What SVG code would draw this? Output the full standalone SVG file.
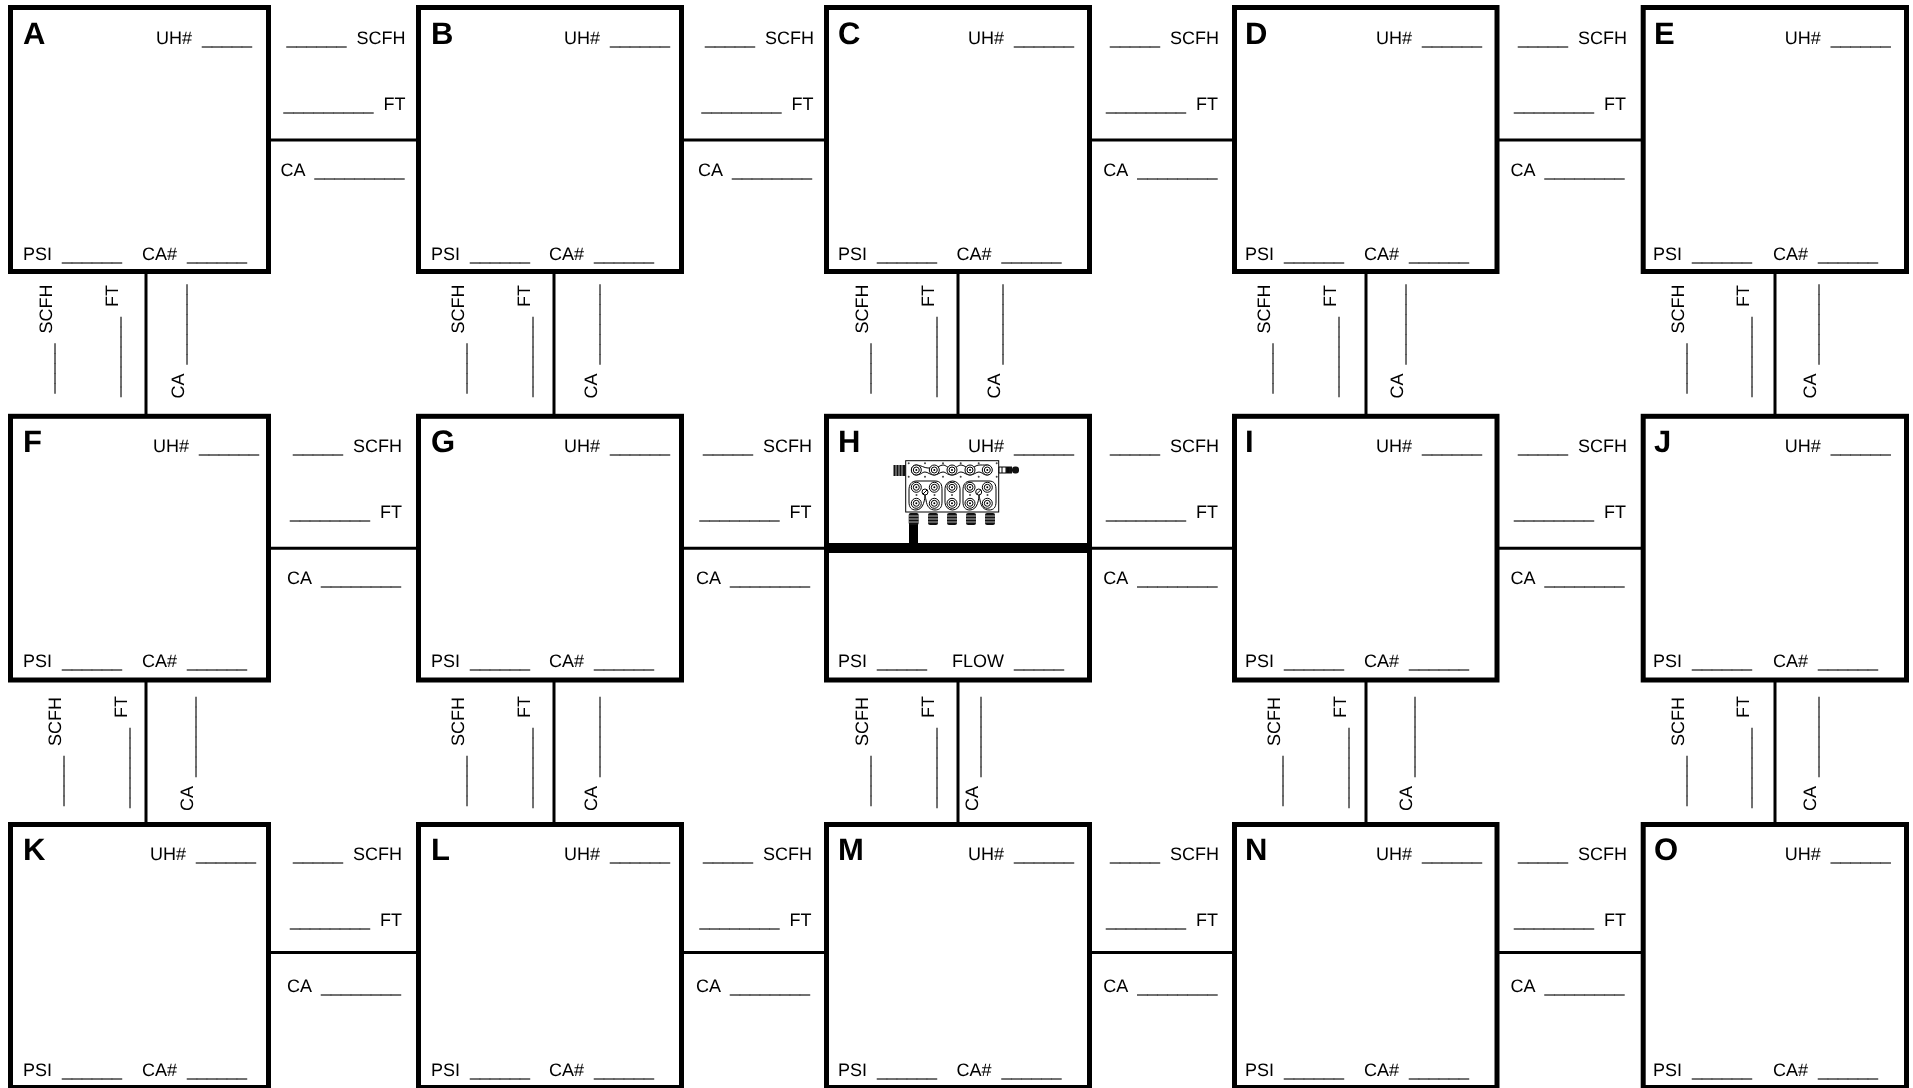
<svg xmlns="http://www.w3.org/2000/svg" width="1913" height="1088" viewBox="0 0 1913 1088">
<style>
text{font-family:"Liberation Sans",Arial,sans-serif;font-size:18px;fill:#000;white-space:pre;text-rendering:geometricPrecision}
svg>g{filter:grayscale(1)}
.l{font-size:31px;font-weight:bold}
.b{fill:#fff;stroke:#000;stroke-width:5}
.c{stroke:#000;stroke-width:3;fill:none}
.m{fill:#fff;stroke:#000;stroke-width:1}
.d{fill:#444}
</style>
<defs>
<g id="port"><circle r="5" class="m"/><circle r="3" class="m"/><circle r="1" fill="#000"/></g>
<g id="gland"><rect x="-5" y="0" width="10" height="12" rx="2" fill="#111"/><path d="M-5 3H5M-5 6H5M-5 9H5" stroke="#ddd" stroke-width=".8"/></g>
</defs>
<rect width="1913" height="1088" fill="#fff"/>
<g id="connectors">
<path class="c" d="M271 140H416M684 140H825M1092 140H1233M1499 140H1641M271 548.300H416M684 548.300H825M1092 548.300H1233M1499 548.300H1641M271 952.500H416M684 952.500H825M1092 952.500H1233M1499 952.500H1641"/>
<path class="c" d="M146 274V414M554 274V414M958 274V414M1366 274V414M1775 274V414M146 682V822M554 682V822M958 682V822M1366 682V822M1775 682V822"/>
<g id="h-labels-row1">
<text x="286.500" y="44">______  SCFH</text><text x="283.500" y="110">_________  FT</text><text x="280.500" y="176">CA  _________</text>
<text x="705" y="44">_____  SCFH</text><text x="701.500" y="110">________  FT</text><text x="698" y="176">CA  ________</text>
<text x="1110" y="44">_____  SCFH</text><text x="1106" y="110">________  FT</text><text x="1103.300" y="176">CA  ________</text>
<text x="1518" y="44">_____  SCFH</text><text x="1514" y="110">________  FT</text><text x="1510.500" y="176">CA  ________</text>
</g>
<g id="h-labels-row2">
<text x="293" y="451.700">_____  SCFH</text><text x="290" y="518">________  FT</text><text x="287" y="584.300">CA  ________</text>
<text x="703" y="451.700">_____  SCFH</text><text x="699.500" y="518">________  FT</text><text x="696" y="584.300">CA  ________</text>
<text x="1110" y="451.700">_____  SCFH</text><text x="1106" y="518">________  FT</text><text x="1103.300" y="584.300">CA  ________</text>
<text x="1518" y="451.700">_____  SCFH</text><text x="1514" y="518">________  FT</text><text x="1510.500" y="584.300">CA  ________</text>
</g>
<g id="h-labels-row3">
<text x="293" y="859.700">_____  SCFH</text><text x="290" y="926">________  FT</text><text x="287" y="991.500">CA  ________</text>
<text x="703" y="859.700">_____  SCFH</text><text x="699.500" y="926">________  FT</text><text x="696" y="991.500">CA  ________</text>
<text x="1110" y="859.700">_____  SCFH</text><text x="1106" y="926">________  FT</text><text x="1103.300" y="991.500">CA  ________</text>
<text x="1518" y="859.700">_____  SCFH</text><text x="1514" y="926">________  FT</text><text x="1510.500" y="991.500">CA  ________</text>
</g>
<g id="v-labels-row1">
<text transform="translate(52 393.500) rotate(-90)">_____  SCFH</text><text transform="translate(118 397) rotate(-90)">________  FT</text><text transform="translate(184 398.500) rotate(-90)">CA  ________</text>
<text transform="translate(464 393.500) rotate(-90)">_____  SCFH</text><text transform="translate(530 397) rotate(-90)">________  FT</text><text transform="translate(596.500 398.500) rotate(-90)">CA  ________</text>
<text transform="translate(868 393.500) rotate(-90)">_____  SCFH</text><text transform="translate(934 397) rotate(-90)">________  FT</text><text transform="translate(1000 398.500) rotate(-90)">CA  ________</text>
<text transform="translate(1270 393.500) rotate(-90)">_____  SCFH</text><text transform="translate(1336 397) rotate(-90)">________  FT</text><text transform="translate(1402.500 398.500) rotate(-90)">CA  ________</text>
<text transform="translate(1683.500 393.500) rotate(-90)">_____  SCFH</text><text transform="translate(1749 397) rotate(-90)">________  FT</text><text transform="translate(1815.500 398.500) rotate(-90)">CA  ________</text>
</g>
<g id="v-labels-row2">
<text transform="translate(61 806) rotate(-90)">_____  SCFH</text><text transform="translate(127 808) rotate(-90)">________  FT</text><text transform="translate(193 811) rotate(-90)">CA  ________</text>
<text transform="translate(464 806) rotate(-90)">_____  SCFH</text><text transform="translate(530 808) rotate(-90)">________  FT</text><text transform="translate(596.500 811) rotate(-90)">CA  ________</text>
<text transform="translate(867.500 806) rotate(-90)">_____  SCFH</text><text transform="translate(933.500 808) rotate(-90)">________  FT</text><text transform="translate(977.500 811) rotate(-90)">CA  ________</text>
<text transform="translate(1280 806) rotate(-90)">_____  SCFH</text><text transform="translate(1346 808) rotate(-90)">________  FT</text><text transform="translate(1412 811) rotate(-90)">CA  ________</text>
<text transform="translate(1683.500 806) rotate(-90)">_____  SCFH</text><text transform="translate(1749 808) rotate(-90)">________  FT</text><text transform="translate(1815.500 811) rotate(-90)">CA  ________</text>
</g>
</g>
<g id="node-A"><rect class="b" x="10.500" y="7.500" width="258" height="264"/><text class="l" x="23" y="44">A</text><text x="156" y="44">UH#  _____</text><text x="23" y="260">PSI  ______</text><text x="142" y="260">CA#  ______</text></g>
<g id="node-B"><rect class="b" x="418.500" y="7.500" width="263" height="264"/><text class="l" x="431" y="44">B</text><text x="564" y="44">UH#  ______</text><text x="431" y="260">PSI  ______</text><text x="549" y="260">CA#  ______</text></g>
<g id="node-C"><rect class="b" x="826.500" y="7.500" width="263" height="264"/><text class="l" x="838" y="44">C</text><text x="968" y="44">UH#  ______</text><text x="838" y="260">PSI  ______</text><text x="956.500" y="260">CA#  ______</text></g>
<g id="node-D"><rect class="b" x="1234.500" y="7.500" width="262.500" height="264"/><text class="l" x="1245" y="44">D</text><text x="1376" y="44">UH#  ______</text><text x="1245" y="260">PSI  ______</text><text x="1364" y="260">CA#  ______</text></g>
<g id="node-E"><rect class="b" x="1643.200" y="7.500" width="263.300" height="264"/><text class="l" x="1654" y="44">E</text><text x="1784.700" y="44">UH#  ______</text><text x="1653" y="260">PSI  ______</text><text x="1773" y="260">CA#  ______</text></g>
<g id="node-F"><rect class="b" x="10.500" y="416.300" width="258" height="263.700"/><text class="l" x="23" y="451.700">F</text><text x="153" y="451.700">UH#  ______</text><text x="23" y="667">PSI  ______</text><text x="142" y="667">CA#  ______</text></g>
<g id="node-G"><rect class="b" x="418.500" y="416.300" width="263" height="263.700"/><text class="l" x="431" y="451.700">G</text><text x="564" y="451.700">UH#  ______</text><text x="431" y="667">PSI  ______</text><text x="549" y="667">CA#  ______</text></g>
<g id="node-H"><rect class="b" x="826.500" y="416.300" width="263" height="263.700"/><text class="l" x="838" y="451.700">H</text><text x="968" y="451.700">UH#  ______</text><text x="838" y="667">PSI  _____</text><text x="952" y="667">FLOW  _____</text>
<path d="M827 548H1090" stroke="#000" stroke-width="10"/><path d="M913.500 520V545" stroke="#000" stroke-width="9"/>
<g id="manifold">
<rect class="m" x="905.700" y="460.700" width="93" height="51.300"/>
<path class="m" d="M916 465C921 465 924 468 928 468H934C938 468 940 465 943 465 946 465 947 468 952 468 957 468 958 465 961 465 964 465 966 468 970 468 974 468 976 465 979 465 982 465 983 465 987 465 993 465 993 475 987 475 983 475 982 472 979 472 976 472 974 475 970 475 966 475 964 472 961 472 958 472 957 475 952 475 947 475 946 472 943 472 940 472 938 475 934 475 930 475 928 472 925 472 922 472 921 475 916 475 910 475 910 465 916 465Z"/>
<use href="#port" x="916.300" y="470"/><use href="#port" x="934.300" y="470"/><use href="#port" x="952" y="470"/><use href="#port" x="970" y="470"/><use href="#port" x="987.300" y="470"/>
<path class="d" d="M907.700 463.300a1 1 0 0 0 2 0a1 1 0 0 0-2 0M924 463.300a1 1 0 0 0 2 0a1 1 0 0 0-2 0M942 463.300a1 1 0 0 0 2 0a1 1 0 0 0-2 0M959.700 463.300a1 1 0 0 0 2 0a1 1 0 0 0-2 0M977.700 463.300a1 1 0 0 0 2 0a1 1 0 0 0-2 0M995.700 463.300a1 1 0 0 0 2 0a1 1 0 0 0-2 0M907.700 476.700a1 1 0 0 0 2 0a1 1 0 0 0-2 0M924 476.700a1 1 0 0 0 2 0a1 1 0 0 0-2 0M942 476.700a1 1 0 0 0 2 0a1 1 0 0 0-2 0M959.700 476.700a1 1 0 0 0 2 0a1 1 0 0 0-2 0M977.700 476.700a1 1 0 0 0 2 0a1 1 0 0 0-2 0M995.700 476.700a1 1 0 0 0 2 0a1 1 0 0 0-2 0"/>
<path class="m" d="M917 481H935C941 481 942 485 942 490V502C942 507 940 510 935 510 930 510 927 507 926 500 925 496 925 494 925 494 925 498 924 510 916 510 911 510 909 507 909 502V490C909 485 911 481 917 481Z"/>
<rect class="m" x="945" y="481" width="15" height="29" rx="7.500"/>
<path class="m" d="M971 481H989C995 481 996 485 996 490V502C996 507 994 510 989 510 984 510 981 507 980 500 979 496 979 494 979 494 979 498 978 510 970 510 965 510 963 507 963 502V490C963 485 965 481 971 481Z"/>
<use href="#port" x="916.300" y="487.300"/><use href="#port" x="934.300" y="487.300"/><use href="#port" x="952" y="487.300"/><use href="#port" x="970" y="487.300"/><use href="#port" x="987.300" y="487.300"/>
<use href="#port" x="916.300" y="503.300"/><use href="#port" x="934.300" y="503.300"/><use href="#port" x="952" y="503.300"/><use href="#port" x="970" y="503.300"/><use href="#port" x="987.300" y="503.300"/>
<circle class="m" cx="925" cy="492" r="3"/><path d="M923 494L927 490" stroke="#000"/><circle class="m" cx="978.700" cy="492" r="3"/><path d="M976.700 494L980.700 490" stroke="#000"/>
<circle class="d" cx="916.500" cy="495" r="1"/><circle class="d" cx="934.500" cy="495" r="1"/><circle class="d" cx="952" cy="495" r="1"/><circle class="d" cx="970" cy="495" r="1"/><circle class="d" cx="987.500" cy="495" r="1"/>
<use href="#gland" x="913.700" y="513"/><use href="#gland" x="933" y="513"/><use href="#gland" x="952" y="513"/><use href="#gland" x="971" y="513"/><use href="#gland" x="990" y="513"/>
<rect x="893.500" y="465" width="12" height="11" fill="#111"/><path d="M896 465V476M899 465V476M902 465V476" stroke="#ddd" stroke-width=".8"/>
<path d="M999 467H1006V473H999Z" class="m"/><rect x="1006" y="466.500" width="6" height="7" fill="#111"/><rect x="1012" y="466.500" width="7" height="7" rx="3" fill="#111"/><path d="M1002 467V473M1008 467V473" stroke="#000"/>
</g></g>
<g id="node-I"><rect class="b" x="1234.500" y="416.300" width="262.500" height="263.700"/><text class="l" x="1245" y="451.700">I</text><text x="1376" y="451.700">UH#  ______</text><text x="1245" y="667">PSI  ______</text><text x="1364" y="667">CA#  ______</text></g>
<g id="node-J"><rect class="b" x="1643.200" y="416.300" width="263.300" height="263.700"/><text class="l" x="1654" y="451.700">J</text><text x="1784.700" y="451.700">UH#  ______</text><text x="1653" y="667">PSI  ______</text><text x="1773" y="667">CA#  ______</text></g>
<g id="node-K"><rect class="b" x="10.500" y="824.500" width="258" height="263"/><text class="l" x="23" y="859.700">K</text><text x="150" y="859.700">UH#  ______</text><text x="23" y="1076">PSI  ______</text><text x="142" y="1076">CA#  ______</text></g>
<g id="node-L"><rect class="b" x="418.500" y="824.500" width="263" height="263"/><text class="l" x="431" y="859.700">L</text><text x="564" y="859.700">UH#  ______</text><text x="431" y="1076">PSI  ______</text><text x="549" y="1076">CA#  ______</text></g>
<g id="node-M"><rect class="b" x="826.500" y="824.500" width="263" height="263"/><text class="l" x="838" y="859.700">M</text><text x="968" y="859.700">UH#  ______</text><text x="838" y="1076">PSI  ______</text><text x="956.500" y="1076">CA#  ______</text></g>
<g id="node-N"><rect class="b" x="1234.500" y="824.500" width="262.500" height="263"/><text class="l" x="1245" y="859.700">N</text><text x="1376" y="859.700">UH#  ______</text><text x="1245" y="1076">PSI  ______</text><text x="1364" y="1076">CA#  ______</text></g>
<g id="node-O"><rect class="b" x="1643.200" y="824.500" width="263.300" height="263"/><text class="l" x="1654" y="859.700">O</text><text x="1784.700" y="859.700">UH#  ______</text><text x="1653" y="1076">PSI  ______</text><text x="1773" y="1076">CA#  ______</text></g>
</svg>
